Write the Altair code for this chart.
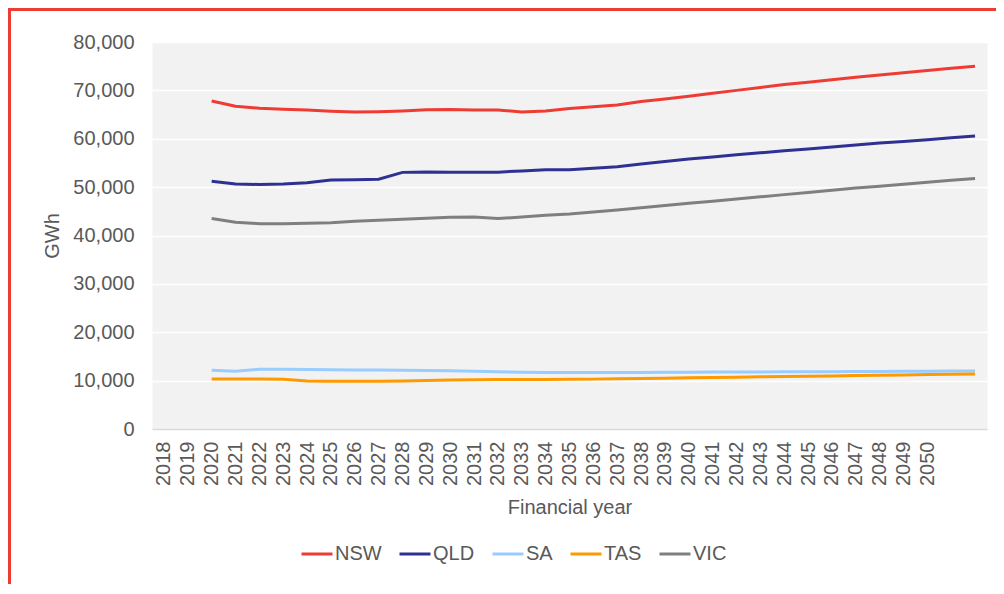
import altair as alt
import pandas as pd

# ---- data ----
years = list(range(2020, 2053))
all_years = [str(y) for y in range(2018, 2053)]
label_years = [str(y) for y in range(2018, 2051)]
regions = ["NSW", "QLD", "SA", "TAS", "VIC"]
colors = ["#ee3b33", "#2e3192", "#99ccff", "#ff9900", "#7f7f7f"]

nsw = [67800, 66700, 66300, 66100, 65950, 65700, 65550, 65600, 65750, 66000, 66050,
       65950, 65950, 65550, 65750, 66250,
       66600, 67000, 67700, 68200, 68800, 69400, 70000, 70600, 71200, 71700, 72200,
       72700, 73200, 73650, 74100, 74550, 75000]
qld = [51200, 50650, 50550, 50650, 50900, 51450, 51550, 51650, 53050, 53150, 53050,
       53050, 53100, 53350, 53600, 53600,
       53900, 54200, 54800, 55300, 55800, 56250, 56700, 57100, 57500, 57900, 58300,
       58700, 59100, 59450, 59800, 60200, 60550]
sa = [12150, 11950, 12350, 12330, 12300, 12250, 12200, 12180, 12150, 12100, 12040,
      11950, 11820, 11740, 11700, 11670,
      11670, 11680, 11700, 11720, 11740, 11760, 11780, 11800, 11820, 11840, 11860,
      11880, 11910, 11940, 11960, 11980, 12000]
tas = [10350, 10350, 10330, 10300, 9930, 9870, 9870, 9870, 9930, 10030, 10120,
       10190, 10210, 10220, 10240, 10260,
       10310, 10380, 10450, 10510, 10580, 10650, 10710, 10780, 10850, 10910, 10980,
       11050, 11110, 11180, 11250, 11310, 11380]
vic = [43500, 42750, 42450, 42450, 42550, 42650, 42950, 43150, 43350, 43550, 43750,
       43800, 43500, 43800, 44200, 44450,
       44850, 45250, 45750, 46200, 46650, 47100, 47550, 48000, 48450, 48900, 49350,
       49800, 50200, 50600, 51000, 51400, 51800]

y_ticks = list(range(0, 80001, 10000))

rows = []
for r, vals in zip(regions, [nsw, qld, sa, tas, vic]):
    for yr, v in zip(years, vals):
        rows.append({"Year": str(yr), "Region": r, "GWh": v})
df = pd.DataFrame(rows)

FONT = "Liberation Sans"
TXT = "#595959"
PAD_L, PAD_T, W, H = 144, 34, 835, 387
TOTAL_W, TOTAL_H = 988, 576

lines = alt.Chart(df).mark_line(strokeWidth=3).encode(
    x=alt.X(
        "Year:O",
        sort=all_years,
        scale=alt.Scale(type="point", domain=all_years, padding=0.5),
        axis=alt.Axis(
            values=label_years, labelAngle=-90, title="Financial year",
            ticks=False, tickSize=0, grid=False, labelPadding=12,
            domainColor="#d9d9d9", domainWidth=1.5, zindex=1,
            labelFont=FONT, labelFontSize=20, labelColor=TXT,
            titleFont=FONT, titleFontSize=20, titleFontWeight="normal",
            titleColor=TXT, titlePadding=12,
        ),
    ),
    y=alt.Y(
        "GWh:Q",
        scale=alt.Scale(domain=[0, 80000], nice=False),
        axis=alt.Axis(
            values=y_ticks, format=",d", title="GWh",
            ticks=False, tickSize=0, domain=False, labelPadding=18,
            grid=True, gridColor="#ffffff", gridWidth=1.5,
            labelFont=FONT, labelFontSize=20, labelColor=TXT,
            titleFont=FONT, titleFontSize=20, titleFontWeight="normal",
            titleColor=TXT, titlePadding=10,
        ),
    ),
    color=alt.Color(
        "Region:N",
        scale=alt.Scale(domain=regions, range=colors),
        legend=alt.Legend(
            title=None, orient="none", direction="horizontal", columns=5,
            legendX=148, legendY=495, padding=0,
            symbolType="stroke", symbolSize=961, symbolStrokeWidth=3,
            labelFont=FONT, labelFontSize=20, labelColor=TXT,
            labelOffset=1, columnPadding=11,
        ),
    ),
)

frame_df = pd.DataFrame({"k": [0]})
top_border = alt.Chart(frame_df).mark_rule(color="#ee3b33", strokeWidth=3).encode(
    x=alt.value(-PAD_L), x2=alt.value(TOTAL_W - PAD_L), y=alt.value(-PAD_T + 1.5)
)
left_border = alt.Chart(frame_df).mark_rule(color="#ee3b33", strokeWidth=3).encode(
    x=alt.value(-PAD_L + 1.5), y=alt.value(-PAD_T), y2=alt.value(TOTAL_H - PAD_T)
)

chart = alt.layer(lines, top_border, left_border).properties(
    width=W, height=H,
    autosize=alt.AutoSizeParams(type="none"),
    padding={"left": PAD_L, "top": PAD_T, "right": TOTAL_W - PAD_L - W,
             "bottom": TOTAL_H - PAD_T - H},
    background="#ffffff",
).configure_view(fill="#f2f2f2", stroke="transparent")

chart.save("out.html", embed_options={"renderer": "svg", "actions": False})
